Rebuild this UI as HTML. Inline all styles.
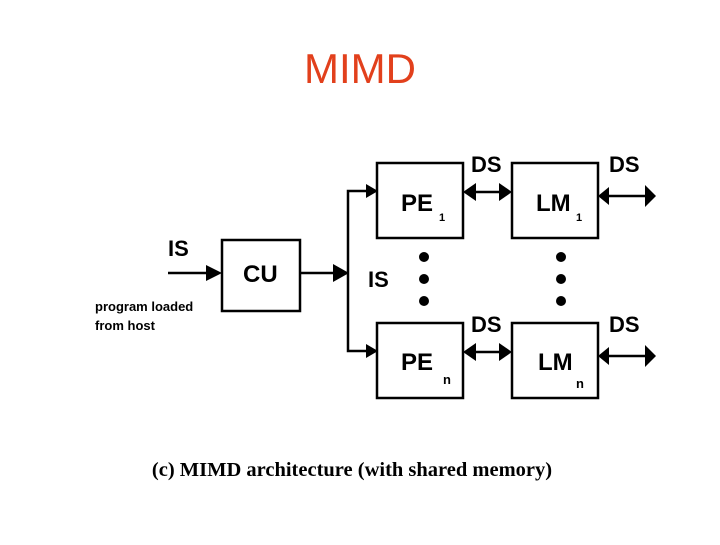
<!DOCTYPE html>
<html><head><style>
body{margin:0;width:720px;height:540px;background:#fff;overflow:hidden}
</style></head><body>
<svg width="720" height="540" xmlns="http://www.w3.org/2000/svg">
<text x="360" y="83" text-anchor="middle" font-family="Liberation Sans, sans-serif" font-size="42" fill="#e2401c">MIMD</text>
<g fill="none" stroke="#000" stroke-width="2.5">
<rect x="222" y="240" width="78" height="71"/>
<rect x="377" y="163" width="86" height="75"/>
<rect x="512" y="163" width="86" height="75"/>
<rect x="377" y="323" width="86" height="75"/>
<rect x="512" y="323" width="86" height="75"/>
<line x1="168" y1="273" x2="215" y2="273"/>
<line x1="300" y1="273" x2="340" y2="273"/>
<polyline points="370,191 348,191 348,351 370,351"/>
<line x1="470" y1="192" x2="505" y2="192"/>
<line x1="470" y1="352" x2="505" y2="352"/>
<line x1="605" y1="196" x2="648" y2="196"/>
<line x1="605" y1="356" x2="648" y2="356"/>
</g>
<g fill="#000">
<polygon points="206,265 222,273 206,281"/>
<polygon points="333,264 349,273 333,282"/>
<polygon points="366,184 378,191 366,198"/>
<polygon points="366,344 378,351 366,358"/>
<polygon points="463,192 476,183 476,201"/><polygon points="512,192 499,183 499,201"/>
<polygon points="463,352 476,343 476,361"/><polygon points="512,352 499,343 499,361"/>
<polygon points="598,196 609,187 609,205"/><polygon points="656,196 645,185 645,207"/>
<polygon points="598,356 609,347 609,365"/><polygon points="656,356 645,345 645,367"/>
<circle cx="424" cy="257" r="5"/><circle cx="424" cy="279" r="5"/><circle cx="424" cy="301" r="5"/>
<circle cx="561" cy="257" r="5"/><circle cx="561" cy="279" r="5"/><circle cx="561" cy="301" r="5"/>
</g>
<g font-family="Liberation Sans, sans-serif" font-weight="bold" fill="#000">
<text x="168" y="256" font-size="22">IS</text>
<text x="243" y="282" font-size="24">CU</text>
<text x="368" y="287" font-size="22">IS</text>
<text x="401" y="211" font-size="24">PE</text><text x="439" y="221" font-size="11">1</text>
<text x="536" y="211" font-size="24">LM</text><text x="576" y="221" font-size="11">1</text>
<text x="401" y="370" font-size="24">PE</text><text x="443" y="384" font-size="13">n</text>
<text x="538" y="370" font-size="24">LM</text><text x="576" y="388" font-size="13">n</text>
<text x="471" y="172" font-size="22">DS</text>
<text x="609" y="172" font-size="22">DS</text>
<text x="471" y="332" font-size="22">DS</text>
<text x="609" y="332" font-size="22">DS</text>
<text x="95" y="311" font-size="13">program loaded</text>
<text x="95" y="330" font-size="13">from host</text>
</g>
<text x="352" y="476" text-anchor="middle" font-family="Liberation Serif, serif" font-weight="bold" font-size="20.5">(c) MIMD architecture (with shared memory)</text>
</svg>
</body></html>
